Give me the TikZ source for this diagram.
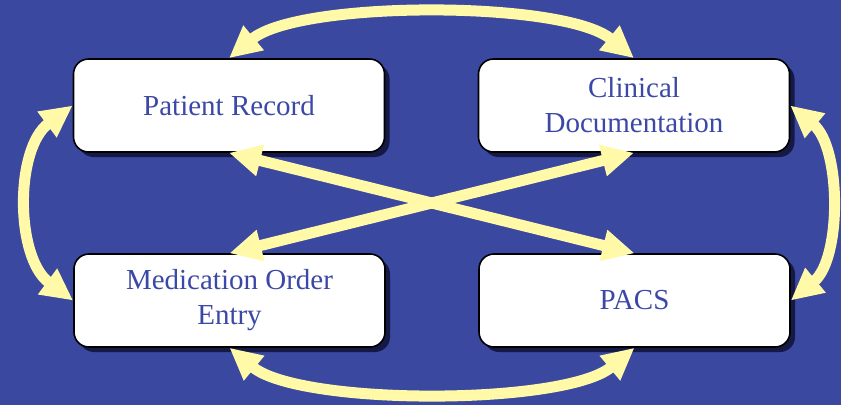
\documentclass[tikz,border=0pt]{standalone}
\usepackage{fontspec}
\setmainfont{Liberation Serif}
\usetikzlibrary{arrows.meta,shadows}

\definecolor{slideblue}{HTML}{3A48A0}
\definecolor{labelblue}{HTML}{3B48A6}
\definecolor{linkyellow}{HTML}{FFF9A8}
\definecolor{shadowblue}{HTML}{151A45}

\tikzset{
  sysbox/.style={
    draw=black, line width=1.6pt, fill=white, rounded corners=15pt,
    minimum width=311pt, minimum height=93pt, inner sep=0pt,
    align=center, text=labelblue,
    font=\fontsize{29}{35}\selectfont,
    drop shadow={shadow xshift=5pt, shadow yshift=-5pt, fill=shadowblue, opacity=1}
  },
  link/.style={
    draw=linkyellow, line width=11pt,
    {Triangle[length=32pt,width=30pt]}-{Triangle[length=32pt,width=30pt]}
  }
}

\begin{document}
\begin{tikzpicture}[x=1pt,y=-1pt]
  % slide background
  \fill[slideblue] (0,0) rectangle (841,405);
  \useasboundingbox (0,0) rectangle (841,405);

  % the four systems
  \node[sysbox] (pr) at (229,105.5) {Patient Record};
  \node[sysbox] (cd) at (634,105.5) {Clinical\\Documentation};
  \node[sysbox] (mo) at (229.5,300.5) {Medication Order\\Entry};
  \node[sysbox] (pa) at (634.5,300.5) {PACS};

  % outer arcs
  \draw[link] (pr.north) .. controls +(70,-58) and +(-70,-58) .. (cd.north);
  \draw[link] (pr.west) .. controls +(-58,43) and +(-58,-43) .. (mo.west);
  \draw[link] (cd.east) .. controls +(51,42) and +(51,-42) .. (pa.east);
  \draw[link] (mo.south) .. controls +(70,58) and +(-70,58) .. (pa.south);

  % diagonal links
  \draw[link] (pr.south) -- (pa.north);
  \draw[link] (cd.south) -- (mo.north);
\end{tikzpicture}
\end{document}
